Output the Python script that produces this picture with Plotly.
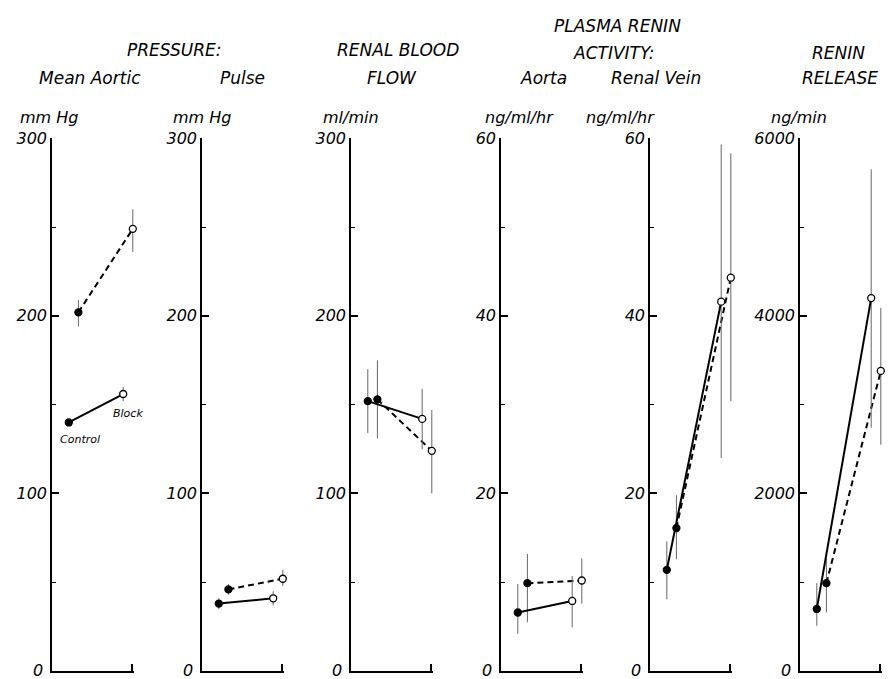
import plotly.graph_objects as go

# ---------------- data ----------------
categories = ["Control", "Block"]

mean_aortic_solid = [140, 156]
mean_aortic_solid_up = [2, 4]
mean_aortic_solid_dn = [2, 4]
mean_aortic_dashed = [202, 249]
mean_aortic_dashed_up = [7, 11]
mean_aortic_dashed_dn = [8, 13]

pulse_solid = [38, 41]
pulse_solid_up = [3, 4]
pulse_solid_dn = [3, 4]
pulse_dashed = [46, 52]
pulse_dashed_up = [3, 5]
pulse_dashed_dn = [3, 4]

rbf_solid = [152, 142]
rbf_solid_up = [18, 17]
rbf_solid_dn = [18, 17]
rbf_dashed = [153, 124]
rbf_dashed_up = [22, 23]
rbf_dashed_dn = [22, 24]

pra_aorta_solid = [6.6, 7.9]
pra_aorta_solid_up = [3.2, 2.8]
pra_aorta_solid_dn = [2.4, 3.0]
pra_aorta_dashed = [9.9, 10.2]
pra_aorta_dashed_up = [3.3, 2.5]
pra_aorta_dashed_dn = [4.4, 2.6]

pra_rv_solid = [11.4, 41.6]
pra_rv_solid_up = [3.2, 17.7]
pra_rv_solid_dn = [3.3, 17.6]
pra_rv_dashed = [16.1, 44.3]
pra_rv_dashed_up = [3.7, 14.0]
pra_rv_dashed_dn = [3.5, 13.9]

rr_solid = [700, 4200]
rr_solid_up = [290, 1450]
rr_solid_dn = [190, 1460]
rr_dashed = [990, 3380]
rr_dashed_up = [280, 710]
rr_dashed_dn = [330, 830]

y_max = [300, 300, 300, 60, 60, 6000]
y_major = [[0, 100, 200, 300]] * 3 + [[0, 20, 40, 60]] * 2 + [[0, 2000, 4000, 6000]]
y_minor = [[50, 150, 250]] * 3 + [[10, 30, 50]] * 2 + [[1000, 3000, 5000]]
units = ["mm Hg", "mm Hg", "ml/min", "ng/ml/hr", "ng/ml/hr", "ng/min"]

panels = [
    (mean_aortic_solid, mean_aortic_solid_up, mean_aortic_solid_dn,
     mean_aortic_dashed, mean_aortic_dashed_up, mean_aortic_dashed_dn),
    (pulse_solid, pulse_solid_up, pulse_solid_dn,
     pulse_dashed, pulse_dashed_up, pulse_dashed_dn),
    (rbf_solid, rbf_solid_up, rbf_solid_dn,
     rbf_dashed, rbf_dashed_up, rbf_dashed_dn),
    (pra_aorta_solid, pra_aorta_solid_up, pra_aorta_solid_dn,
     pra_aorta_dashed, pra_aorta_dashed_up, pra_aorta_dashed_dn),
    (pra_rv_solid, pra_rv_solid_up, pra_rv_solid_dn,
     pra_rv_dashed, pra_rv_dashed_up, pra_rv_dashed_dn),
    (rr_solid, rr_solid_up, rr_solid_dn,
     rr_dashed, rr_dashed_up, rr_dashed_dn),
]

# ---------------- layout geometry ----------------
W, H = 895, 679
axis_left_px = [52, 202, 351, 501, 650, 800]
x_span = 1.03
px_per_x = 80
y0_px, ytop_px = 671, 131
solid_x = [0.21, 0.89]
dashed_x = [0.33, 1.01]

FONT = "DejaVu Sans"
TICKFONT = dict(family=FONT, size=16, color="black", style="italic")
fig = go.Figure()

def fx(px):
    return px / W

def fy(px):
    return 1 - px / H

annotations = []

for i, (s, su, sd, d, du, dd) in enumerate(panels):
    n = "" if i == 0 else str(i + 1)
    xa, ya = "x" + n, "y" + n
    err_style = dict(type="data", thickness=1, width=0, color="#666")
    fig.add_trace(go.Scatter(
        x=dashed_x, y=d, xaxis=xa, yaxis=ya, mode="lines+markers",
        line=dict(color="black", width=2, dash="6px,4px"),
        marker=dict(size=7, color=["black", "white"], line=dict(color="black", width=1.3)),
        error_y=dict(array=du, arrayminus=dd, **err_style),
        cliponaxis=False, showlegend=False, hoverinfo="y"))
    fig.add_trace(go.Scatter(
        x=solid_x, y=s, xaxis=xa, yaxis=ya, mode="lines+markers",
        line=dict(color="black", width=2),
        marker=dict(size=7, color=["black", "white"], line=dict(color="black", width=1.3)),
        error_y=dict(array=su, arrayminus=sd, **err_style),
        cliponaxis=False, showlegend=False, hoverinfo="y"))

    x0 = axis_left_px[i]
    xdom = [fx(x0), fx(x0 + x_span * px_per_x)]
    ydom = [fy(y0_px), fy(ytop_px)]
    fig.update_layout(**{
        ("xaxis" + n): dict(
            domain=xdom, range=[0, x_span], anchor=ya,
            showline=True, linecolor="black", linewidth=1.5,
            tickvals=[1.0], ticks="inside", ticklen=7, tickwidth=1.5,
            tickcolor="black", showticklabels=False, showgrid=False,
            zeroline=False, fixedrange=True),
        ("yaxis" + n): dict(
            domain=ydom, range=[0, y_max[i]], anchor=xa,
            showline=True, linecolor="black", linewidth=1.5,
            tickvals=y_major[i], ticks="inside", ticklen=7, tickwidth=1.5,
            tickcolor="black", showgrid=False, zeroline=False,
            tickfont=TICKFONT,
            minor=dict(tickvals=y_minor[i], ticks="inside", ticklen=4,
                       tickwidth=1, tickcolor="black"),
            fixedrange=True),
    })
    # the "0" label at the axis corner (plotly hides it at the crossing)
    annotations.append(dict(text="0", x=0, y=0, xref=xa, yref=ya, showarrow=False,
                            xanchor="right", yanchor="middle", xshift=-8, yshift=1,
                            height=14, borderpad=0, font=TICKFONT))

# ---------------- text ----------------
headers = [
    ("PRESSURE:", 174, 42), ("Mean Aortic", 90, 70), ("Pulse", 242, 70),
    ("RENAL BLOOD", 398, 42), ("FLOW", 392, 70),
    ("PLASMA RENIN", 617, 17), ("ACTIVITY:", 614, 45),
    ("Aorta", 543, 70), ("Renal Vein", 656, 70),
    ("RENIN", 838, 45), ("RELEASE", 840, 70),
]
unit_pos = [(49, 110), (202, 110), (351, 110), (519, 110), (620, 110), (799, 110)]

for txt, xp, yp in headers:
    annotations.append(dict(text=txt, x=fx(xp), y=fy(yp), xref="paper", yref="paper",
                            showarrow=False, xanchor="center", yanchor="middle",
                            font=dict(family=FONT, size=17, color="black", style="italic")))
for u, (xp, yp) in zip(units, unit_pos):
    annotations.append(dict(text=u, x=fx(xp), y=fy(yp), xref="paper", yref="paper",
                            showarrow=False, xanchor="center", yanchor="middle",
                            font=dict(family=FONT, size=16, color="black", style="italic")))
# series labels in the first panel
annotations.append(dict(text=categories[1], x=fx(128), y=fy(410), xref="paper", yref="paper",
                        showarrow=False, xanchor="center", yanchor="middle",
                        font=dict(family=FONT, size=11, color="black", style="italic")))
annotations.append(dict(text=categories[0], x=fx(80), y=fy(436), xref="paper", yref="paper",
                        showarrow=False, xanchor="center", yanchor="middle",
                        font=dict(family=FONT, size=11, color="black", style="italic")))

fig.update_layout(
    width=W, height=H, autosize=False,
    margin=dict(l=0, r=0, t=0, b=0),
    paper_bgcolor="white", plot_bgcolor="white",
    annotations=annotations, showlegend=False,
)

fig.write_html("out.html")
